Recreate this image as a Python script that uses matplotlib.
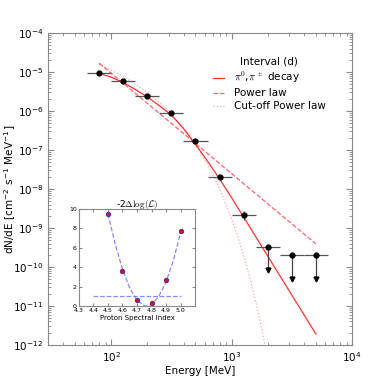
import matplotlib
matplotlib.use("Agg")
import matplotlib.pyplot as plt
from matplotlib.ticker import NullFormatter
import numpy as np

plt.rcParams['mathtext.fontset'] = 'cm'
plt.rcParams['font.family'] = 'DejaVu Sans'

# --- SED data points (interval d) ---
energy = [79.4, 126, 200, 316, 501, 794, 1259]
e_lo = [63.1, 100, 158, 251, 398, 631, 1000]
e_hi = [100, 158, 251, 398, 631, 1000, 1585]
flux = [9.4e-6, 5.9e-6, 2.4e-6, 8.9e-7, 1.66e-7, 2.0e-8, 2.1e-9]
flux_lo = [9.4e-6, 5.9e-6, 2.4e-6, 8.9e-7, 1.66e-7, 2.0e-8, 1.6e-9]
flux_hi = [9.4e-6, 5.9e-6, 2.4e-6, 8.9e-7, 1.66e-7, 2.0e-8, 2.7e-9]

# upper limits
ul_energy = [1995, 3162, 5012]
ul_lo = [1585, 2512, 3981]
ul_hi = [2512, 3981, 6310]
ul_flux = [3.3e-10, 2.06e-10, 2.06e-10]
ul_tip = [8.3e-11, 4.9e-11, 4.9e-11]

# --- model curves ---
pion_e = [79.4, 100, 126, 158, 200, 251, 316, 398, 501, 631, 794, 1000, 1585, 2512, 5012]
pion_f = [9.3e-6, 7.4e-6, 5.4e-6, 3.6e-6, 2.3e-6, 1.38e-6, 7.9e-7, 3.6e-7, 1.41e-7,
          5.2e-8, 1.82e-8, 6.0e-9, 6.0e-10, 6.0e-11, 1.9e-12]

pl_e = [79.4, 5012]
pl_f = [1.7e-5, 3.9e-10]

cut_e = [79.4, 100, 126, 158, 200, 251, 316, 398, 501, 631, 794, 1000, 1122, 1259,
         1413, 1585, 1778, 1995]
cut_f = [1.58e-5, 1.12e-5, 7.7e-6, 5.0e-6, 3.0e-6, 1.7e-6, 8.5e-7, 3.7e-7, 1.41e-7,
         4.3e-8, 1.02e-8, 1.74e-9, 6.2e-10, 1.95e-10, 5.4e-11, 1.29e-11, 2.6e-12, 4.5e-13]

# --- likelihood profile (inset) ---
index = [4.5, 4.6, 4.7, 4.8, 4.9, 5.0]
dlogl = [9.5, 3.6, 0.65, 0.3, 2.7, 7.7]
fit_x = [4.5, 4.55, 4.6, 4.65, 4.7, 4.75, 4.765, 4.8, 4.85, 4.9, 4.95, 5.0]
fit_y = [9.5, 6.4, 3.8, 1.85, 0.6, 0.05, 0.0, 0.17, 1.0, 2.5, 4.7, 7.6]
level_x = [4.4, 5.0]
level_y = [1.0, 1.0]

fig = plt.figure(figsize=(3.79, 3.85), dpi=100)
ax = fig.add_axes([0.127, 0.104, 0.802, 0.81])

ax.plot(pion_e, pion_f, '-', color='red', alpha=0.8, lw=0.9,
        label=r'$\pi^0$,$\pi^\pm$ decay')
ax.plot(pl_e, pl_f, '--', color='red', alpha=0.6, lw=0.9, label='Power law')
ax.plot(cut_e, cut_f, ':', color='red', alpha=0.35, lw=0.9, label='Cut-off Power law')

energy = np.array(energy)
flux = np.array(flux)
xerr = [energy - np.array(e_lo), np.array(e_hi) - energy]
yerr = [flux - np.array(flux_lo), np.array(flux_hi) - flux]
ax.errorbar(energy, flux, xerr=xerr, yerr=yerr, fmt='o', color='black', ms=3.5,
            ecolor='#555555', elinewidth=0.9, capsize=0, zorder=5)

ul_energy = np.array(ul_energy)
ax.errorbar(ul_energy, ul_flux,
            xerr=[ul_energy - np.array(ul_lo), np.array(ul_hi) - ul_energy],
            fmt='o', color='black', ms=3.5, ecolor='#555555', elinewidth=0.9,
            capsize=0, zorder=5)
ax.vlines(ul_energy, ul_tip, ul_flux, color='#444444', lw=0.9, zorder=4)
ax.plot(ul_energy, ul_tip, 'v', color='black', ms=3.5, zorder=5)

ax.set_xscale('log')
ax.set_yscale('log')
ax.set_xlim(30, 1e4)
ax.set_ylim(1e-12, 1e-4)
ax.xaxis.set_minor_formatter(NullFormatter())
ax.yaxis.set_minor_formatter(NullFormatter())
ax.set_xlabel('Energy [MeV]', fontsize=7.5, labelpad=2)
ax.set_ylabel(r'dN/dE [cm$^{\mathdefault{-2}}$ s$^{\mathdefault{-1}}$ MeV$^{\mathdefault{-1}}$]',
              fontsize=7.5)
ax.yaxis.set_label_coords(-0.1, 0.5)
ax.tick_params(which='both', direction='in', top=True, right=True, colors='#888888',
               labelcolor='black', labelsize=7.5)
ax.tick_params(which='major', length=4)
ax.tick_params(which='minor', length=2)
for sp in ax.spines.values():
    sp.set_color('#888888')

leg = ax.legend(title='Interval (d)', loc='upper left', bbox_to_anchor=(0.51, 0.955),
                frameon=False, fontsize=7.5, title_fontsize=7.5, handlelength=1.1,
                handletextpad=1.0, labelspacing=0.3)

# inset
ins = fig.add_axes([0.208, 0.205, 0.307, 0.252])
ins.plot(fit_x, fit_y, '--', color='#6b6bff', alpha=0.8, lw=0.9)
ins.plot(level_x, level_y, '--', color='#6b6bff', alpha=0.8, lw=0.9)
ins.plot(index, dlogl, 'o', color='red', mec='#3030a0', mew=0.6, ms=3.2, zorder=5)
ins.set_xlim(4.3, 5.1)
ins.set_ylim(0, 10)
ins.set_xticks([4.3, 4.4, 4.5, 4.6, 4.7, 4.8, 4.9, 5.0])
ins.set_yticks([0, 2, 4, 6, 8, 10])
ins.set_title(r'-2$\Delta\log(\mathcal{L})$', fontsize=6.5, pad=1.5)
ins.set_xlabel('Proton Spectral Index', fontsize=5, labelpad=1)
ins.tick_params(direction='in', top=True, right=True, length=2.5, colors='#888888',
                labelcolor='black', labelsize=4.5, pad=1.5)
for sp in ins.spines.values():
    sp.set_color('#888888')

fig.savefig('out.png', dpi=100)
